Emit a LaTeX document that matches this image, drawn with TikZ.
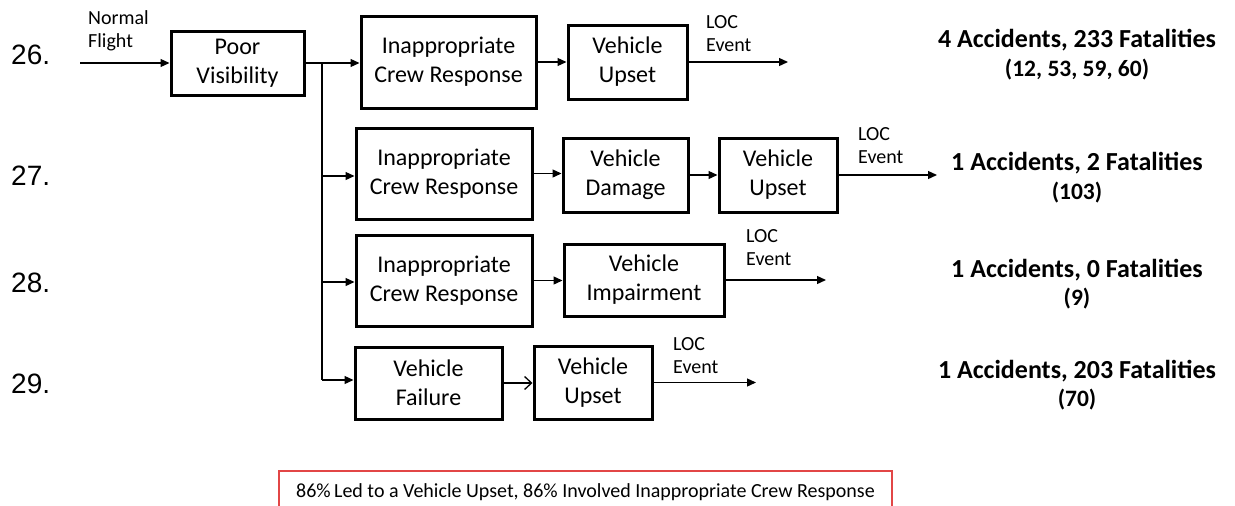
\documentclass[tikz,border=0pt]{standalone}
\usepackage{fontspec}
\setmainfont{Carlito}
\newfontfamily\arialfont{Liberation Sans}
\usetikzlibrary{arrows.meta}
\definecolor{boxred}{RGB}{226,70,70}
\begin{document}
\begin{tikzpicture}[x=1pt,y=-1pt,
  box/.style={draw, line width=3pt, rectangle, inner sep=0pt, align=center,
              font=\fontsize{24}{29}\selectfont},
  lbl/.style={align=left, inner sep=0pt, anchor=west, font=\fontsize{20}{23}\selectfont},
  resa/.style={anchor=base, inner sep=0pt, font=\bfseries\fontsize{26}{30}\selectfont},
  resb/.style={anchor=base, inner sep=0pt, font=\bfseries\fontsize{23.5}{28}\selectfont},
  num/.style={anchor=base west, inner sep=0pt, font=\arialfont\fontsize{28}{30}\selectfont},
  wire/.style={line width=1.3pt},
  conn/.style={line width=1.3pt, -{Triangle[length=9pt,width=8pt]}},
  openconn/.style={line width=1.3pt, -{Straight Barb[length=7pt,width=13pt]}}]
\useasboundingbox (0,0) rectangle (1235,506);

% row numbers
\node[num] (n26) at (11,64) {26.};
\node[num] (n27) at (11,185) {27.};
\node[num] (n28) at (11,292) {28.};
\node[num] (n29) at (11,393) {29.};

% boxes
\node[box, minimum width=133pt, minimum height=64pt] (pv) at (237.5,63) {Poor\\Visibility};
\node[box, minimum width=175pt, minimum height=92pt] (icr1) at (448.5,62) {Inappropriate\\Crew Response};
\node[box, minimum width=119pt, minimum height=74pt] (vu1) at (627.5,62) {Vehicle\\Upset};

\node[box, minimum width=176pt, minimum height=91pt] (icr2) at (444,173.5) {Inappropriate\\Crew Response};
\node[box, minimum width=125pt, minimum height=74pt] (vd) at (625.5,175) {Vehicle\\Damage};
\node[box, minimum width=118pt, minimum height=74pt] (vu2) at (778,175) {Vehicle\\Upset};

\node[box, minimum width=176pt, minimum height=91pt] (icr3) at (444,280.5) {Inappropriate\\Crew Response};
\node[box, minimum width=160pt, minimum height=72pt] (vi) at (644,280) {Vehicle\\Impairment};

\node[box, minimum width=147pt, minimum height=72pt] (vf) at (428.5,383) {Vehicle\\Failure};
\node[box, minimum width=118pt, minimum height=73pt] (vu4) at (593,382.5) {Vehicle\\Upset};

% labels
\node[lbl] (nf) at (88,31) {Normal\\Flight};
\node[lbl] (loc1) at (706,34) {LOC\\Event};
\node[lbl] (loc2) at (858,146) {LOC\\Event};
\node[lbl] (loc3) at (746,247.5) {LOC\\Event};
\node[lbl] (loc4) at (673,356) {LOC\\Event};

% results
\node[resa] (r1a) at (1077,47) {4 Accidents, 233 Fatalities};
\node[resb] (r1b) at (1077,76) {(12, 53, 59, 60)};
\node[resa] (r2a) at (1077,170) {1 Accidents, 2 Fatalities};
\node[resb] (r2b) at (1077,199) {(103)};
\node[resa] (r3a) at (1077,277) {1 Accidents, 0 Fatalities};
\node[resb] (r3b) at (1077,305) {(9)};
\node[resa] (r4a) at (1077,378) {1 Accidents, 203 Fatalities};
\node[resb] (r4b) at (1077,406) {(70)};

% coordinates
\coordinate (start) at (80,63);
\coordinate (j0) at (322,63);
\coordinate (j2) at (322,176);
\coordinate (j3) at (322,282);
\coordinate (j4) at (322,380);
\coordinate (e1) at (788,62);
\coordinate (e2) at (937,174);
\coordinate (e3) at (826,276);
\coordinate (e4) at (756,382);

% connectors
\draw[conn] (start) -- (start -| pv.west);
\draw[conn] (pv.east) -- (pv.east -| icr1.west);
\draw[wire] (j0) -- (j4);
\draw[conn] (j2) -- (j2 -| icr2.west);
\draw[conn] (j3) -- (j3 -| icr3.west);
\draw[conn] (j4) -- (j4 -| vf.west);

\draw[conn] (icr1.east) -- (icr1.east -| vu1.west);
\draw[conn] (vu1.east) -- (vu1.east -| e1);

\draw[conn] (icr2.east) -- (icr2.east -| vd.west);
\draw[conn] (vd.east) -- (vd.east -| vu2.west);
\draw[conn] (vu2.east) -- (vu2.east -| e2);

\draw[conn] (icr3.east) -- (icr3.east -| vi.west);
\draw[conn] (vi.east) -- (vi.east -| e3);

\draw[openconn] (vf.east) -- (vf.east -| vu4.west);
\draw[conn] (vu4.east) -- (vu4.east -| e4);

% summary box
\node[anchor=base west, inner sep=0pt, font=\fontsize{20}{24}\selectfont] (sum) at (296,497)
  {86\%\,Led to a Vehicle Upset, 86\% Involved Inappropriate Crew Response};
\draw[boxred, line width=1.5pt] (279,512) -- (279,471) -- (sum.east |- 0,471) -- ++(17,0) -- ++(0,41);
\end{tikzpicture}
\end{document}
